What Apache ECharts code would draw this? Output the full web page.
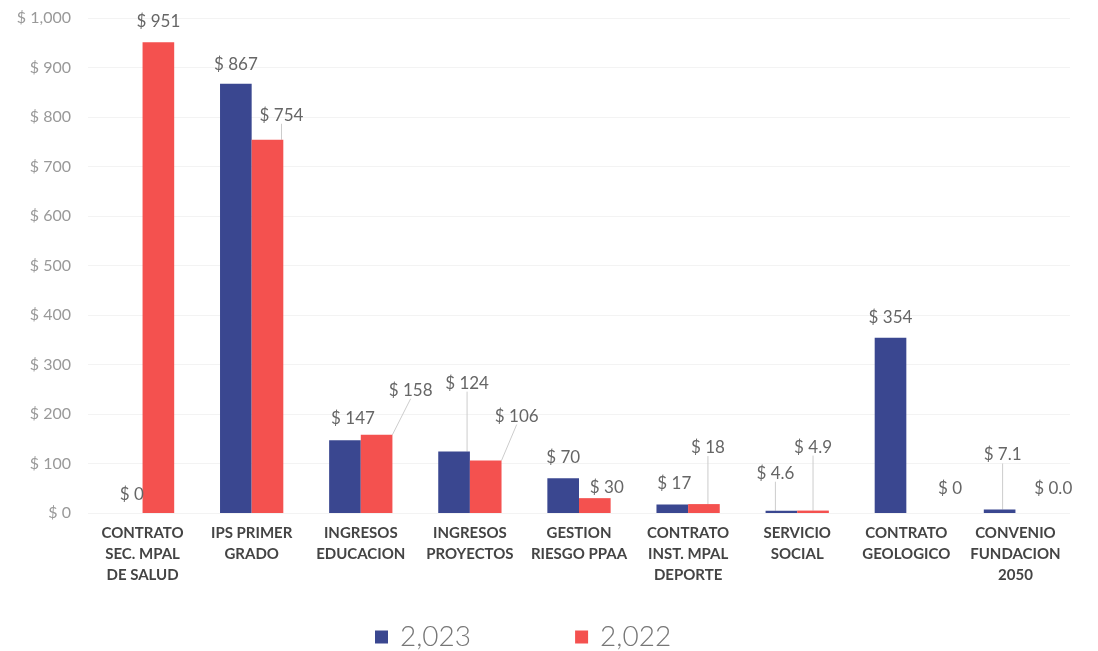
<!DOCTYPE html>
<html>
<head>
<meta charset="utf-8">
<script src="https://cdn.jsdelivr.net/npm/echarts@6/dist/echarts.min.js"></script>
<style>html,body{margin:0;padding:0;background:#fff}#c{width:1098px;height:651px}</style>
</head>
<body>
<div id="c"></div>
<script>
const categories = [
  "CONTRATO\nSEC. MPAL\nDE SALUD",
  "IPS PRIMER\nGRADO",
  "INGRESOS\nEDUCACION",
  "INGRESOS\nPROYECTOS",
  "GESTION\nRIESGO PPAA",
  "CONTRATO\nINST. MPAL\nDEPORTE",
  "SERVICIO\nSOCIAL",
  "CONTRATO\nGEOLOGICO",
  "CONVENIO\nFUNDACION\n2050"
];
const seriesNames = ["2,023", "2,022"];
const values2023 = [0, 867, 147, 124, 70, 17, 4.6, 354, 7.1];
const values2022 = [951, 754, 158, 106, 30, 18, 4.9, 0, 0.0];
const decimals2023 = [0, 0, 0, 0, 0, 0, 1, 0, 1];
const decimals2022 = [0, 0, 0, 0, 0, 0, 1, 0, 1];
const yTicks = [0, 100, 200, 300, 400, 500, 600, 700, 800, 900, 1000];

// label displacement (layout only)
const offsets = [
  [[5,-5],[0,-6],[8,-8],[13,-55],[0,-7],[2,-8],[-6,-24],[0,-7],[3,-41]],
  [[0,-7],[14,-11],[34,-31],[31,-31],[12,3],[4,-43],[0,-50],[28,-11],[22,-11]]
];
const showLine = [
  [false,false,false,true,false,false,true,false,true],
  [false,true,true,true,false,true,true,false,false]
];

function fmt(v, d) {
  return "$ " + v.toLocaleString("en-US", {minimumFractionDigits: d, maximumFractionDigits: d});
}

const colors = ["#3a4790", "#f4514f"];
const allVals = [values2023, values2022];
const allDec = [decimals2023, decimals2022];

const chart = echarts.init(document.getElementById("c"));
chart.setOption({
  animation: false,
  grid: {left: 88, right: 28, top: 18, bottom: 138},
  legend: {
    top: 618, left: 370,
    icon: "rect", itemWidth: 13, itemHeight: 13, itemGap: 104,
    textStyle: {fontSize: 28, color: "#777", fontFamily: "Lato", fontWeight: 300, padding: [0, 0, 0, 7]},
    data: seriesNames
  },
  xAxis: {
    type: "category", data: categories,
    axisLine: {show: false}, axisTick: {show: false},
    axisLabel: {interval: 0, color: "#444", fontSize: 15, fontWeight: "bold", lineHeight: 21, margin: 10, fontFamily: "Lato"}
  },
  yAxis: {
    type: "value", min: yTicks[0], max: yTicks[yTicks.length - 1], interval: 100,
    axisLine: {show: false}, axisTick: {show: false},
    splitLine: {lineStyle: {color: "#f3f3f3"}},
    axisLabel: {color: "#999", fontSize: 16, margin: 17, fontFamily: "Lato",
      formatter: v => "$ " + v.toLocaleString("en-US")}
  },
  series: [0, 1].map(s => ({
    name: seriesNames[s], type: "bar",
    barGap: "0%", barCategoryGap: "42%",
    itemStyle: {color: colors[s]},
    data: allVals[s].map((v, i) => ({value: v, labelLine: {show: showLine[s][i]}})),
    label: {
      show: true, position: "top", distance: 5,
      color: "#666", fontSize: 17, fontFamily: "Lato",
      formatter: p => fmt(allVals[s][p.dataIndex], allDec[s][p.dataIndex])
    },
    labelLine: {show: true, lineStyle: {color: "#ccc", width: 1}},
    labelLayout: p => ({dx: offsets[s][p.dataIndex][0], dy: offsets[s][p.dataIndex][1]})
  }))
});
</script>
</body>
</html>
